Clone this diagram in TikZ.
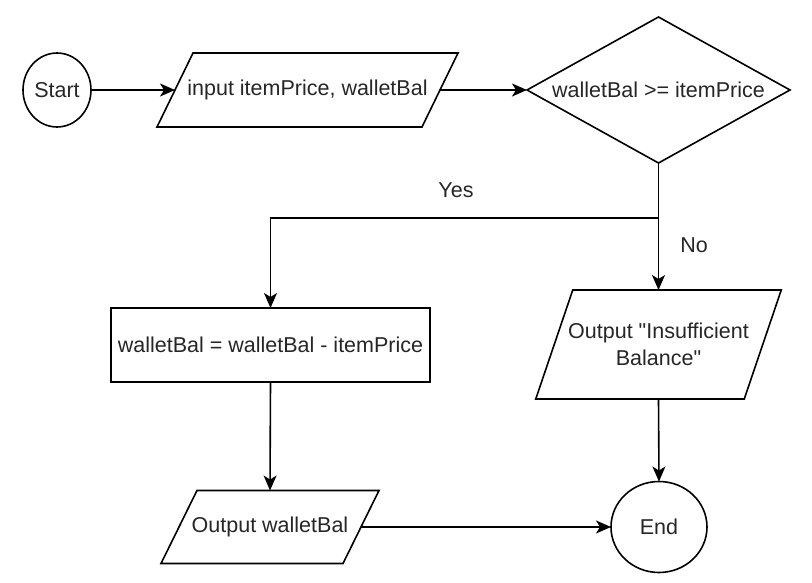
\documentclass[tikz,border=0pt]{standalone}
\usepackage{fontspec}
\setmainfont{Liberation Sans}[Ligatures=TeXOff]
\usetikzlibrary{arrows.meta,shapes.geometric}
\begin{document}
\begin{tikzpicture}[x=1pt,y=-1pt,
  every node/.style={font=\fontsize{21.5}{27}\selectfont, inner sep=0pt, outer sep=0pt, text=black!85},
  ln/.style={line width=1.6pt, draw=black},
  arr/.style={line width=1.6pt, draw=black, -{Stealth[length=15pt,width=13pt,inset=4pt]}},
  term/.style={ellipse, ln},
  procbox/.style={rectangle, ln}
]
\useasboundingbox (0,0) rectangle (812,583);

% nodes
\node[term, minimum width=68pt, minimum height=74pt] (start) at (57,90) {Start};
\node[minimum width=265pt, minimum height=74pt] (in) at (307.5,90) {input itemPrice, walletBal};
\node[minimum width=263pt, minimum height=146pt] (dec) at (658.5,90) {walletBal >= itemPrice};
\node[procbox, minimum width=319pt, minimum height=74pt] (calc) at (270.5,345) {walletBal = walletBal - itemPrice};
\node[minimum width=208.5pt, minimum height=109pt, align=center] (ins) at (658.5,344.5) {Output "Insufficient\\Balance"};
\node[minimum width=182pt, minimum height=73pt] (outw) at (270,527) {Output walletBal};
\node[term, minimum width=96pt, minimum height=91pt] (end) at (659,527) {End};

% parallelograms and diamond outlines
\draw[ln] ([xshift=18pt]in.north west) -- ([xshift=18pt]in.north east) -- ([xshift=-18pt]in.south east) -- ([xshift=-18pt]in.south west) -- cycle;
\draw[ln] ([xshift=18.5pt]ins.north west) -- ([xshift=18.5pt]ins.north east) -- ([xshift=-18.5pt]ins.south east) -- ([xshift=-18.5pt]ins.south west) -- cycle;
\draw[ln] ([xshift=18pt]outw.north west) -- ([xshift=18pt]outw.north east) -- ([xshift=-18pt]outw.south east) -- ([xshift=-18pt]outw.south west) -- cycle;
\draw[ln] (dec.north) -- (dec.east) -- (dec.south) -- (dec.west) -- cycle;

% connectors
\coordinate (j) at (658.5,218);
\draw[arr] (start.east) -- (in.west);
\draw[arr] (in.east) -- (dec.west);
\draw[arr] (dec.south) -- (ins.north);
\draw[arr] (j) -| (calc.north);
\draw[arr] (calc.south) -- (outw.north);
\draw[arr] (outw.east) -- (end.west);
\draw[arr] (ins.south) -- (end.north);

% labels
\node (yes) at (456,190) {Yes};
\node (no) at (694,245) {No};
\end{tikzpicture}
\end{document}
